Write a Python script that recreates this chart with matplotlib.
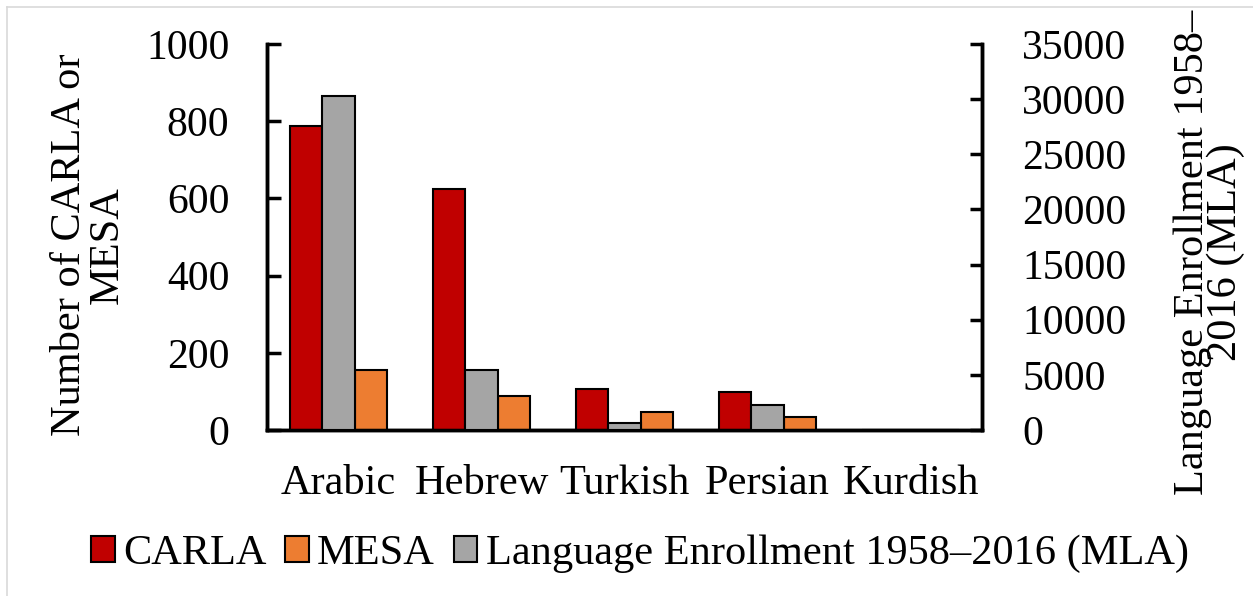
import matplotlib
matplotlib.use('Agg')
import matplotlib.pyplot as plt
import numpy as np
from matplotlib.lines import Line2D
from matplotlib.patches import Patch

# data
languages = ['Arabic', 'Hebrew', 'Turkish', 'Persian', 'Kurdish']
carla = [787, 624, 107, 98, 0]
mesa = [156, 89, 47, 34, 0]
enrollment = [30300, 5450, 620, 2290, 0]

c_carla = '#C00000'
c_mesa = '#ED7D31'
c_enroll = '#A5A5A5'

plt.rcParams['font.family'] = ['Liberation Serif', 'DejaVu Serif']
fs = 30.5
fs_tick = 30

fig = plt.figure(figsize=(12.53, 5.96), dpi=100)
ax = fig.add_axes([267 / 1253, 1 - 430 / 596, 715 / 1253, 386 / 596])
ax2 = ax.twinx()

x = np.arange(len(languages))
w = 0.224
ax.bar(x - w, carla, w, color=c_carla, edgecolor='black', linewidth=1.5, zorder=3)
ax.bar(x + w, mesa, w, color=c_mesa, edgecolor='black', linewidth=1.5, zorder=3)
ax2.bar(x, enrollment, w, color=c_enroll, edgecolor='black', linewidth=1.5, zorder=3)

ax.set_xlim(-0.5, len(languages) - 0.5)
ax.set_ylim(0, 1000)
ax.set_yticks(np.arange(0, 1001, 200))
ax2.set_ylim(0, 35000)
ax2.set_yticks(np.arange(0, 35001, 5000))

ax.set_xticks(x)
ax.set_xticklabels(languages, fontsize=fs)
ax.tick_params(axis='x', length=0, pad=25)
ax.tick_params(axis='y', direction='in', length=10, width=2.5, labelsize=fs_tick, pad=27)
ax2.tick_params(axis='y', direction='in', length=9, width=2.5, labelsize=fs_tick, pad=29)

for a in (ax, ax2):
    a.spines['top'].set_visible(False)
    for s in ('left', 'right', 'bottom'):
        a.spines[s].set_linewidth(2.5)
        a.spines[s].set_color('black')

fig.text(89 / 1253, 1 - 245 / 596, 'Number of CARLA or\nMESA', rotation=90,
         ha='center', va='center', multialignment='center', fontsize=fs,
         linespacing=0.98)
fig.text(1209 / 1253, 1 - 252 / 596, 'Language Enrollment 1958\u2013\n2016 (MLA)',
         rotation=90, ha='center', va='center', multialignment='center',
         fontsize=fs, linespacing=0.82)

handles = [Patch(facecolor=c_carla, edgecolor='black', linewidth=1.5),
           Patch(facecolor=c_mesa, edgecolor='black', linewidth=1.5),
           Patch(facecolor=c_enroll, edgecolor='black', linewidth=1.5)]
fig.legend(handles, ['CARLA', 'MESA', 'Language Enrollment 1958\u20132016 (MLA)'],
           loc='center', bbox_to_anchor=(640 / 1253, 1 - 554 / 596), ncol=3,
           frameon=False, fontsize=fs, handlelength=0.55, handleheight=0.55,
           handletextpad=0.2, columnspacing=0.45, borderpad=0)

# light chart-area border
fig.add_artist(Line2D([7 / 1253, 7 / 1253], [0, 1 - 7 / 596], color='#D9D9D9',
                      linewidth=1.2, transform=fig.transFigure))
fig.add_artist(Line2D([7 / 1253, 1], [1 - 7 / 596, 1 - 7 / 596], color='#D9D9D9',
                      linewidth=1.2, transform=fig.transFigure))

fig.savefig('out.png', dpi=100)
